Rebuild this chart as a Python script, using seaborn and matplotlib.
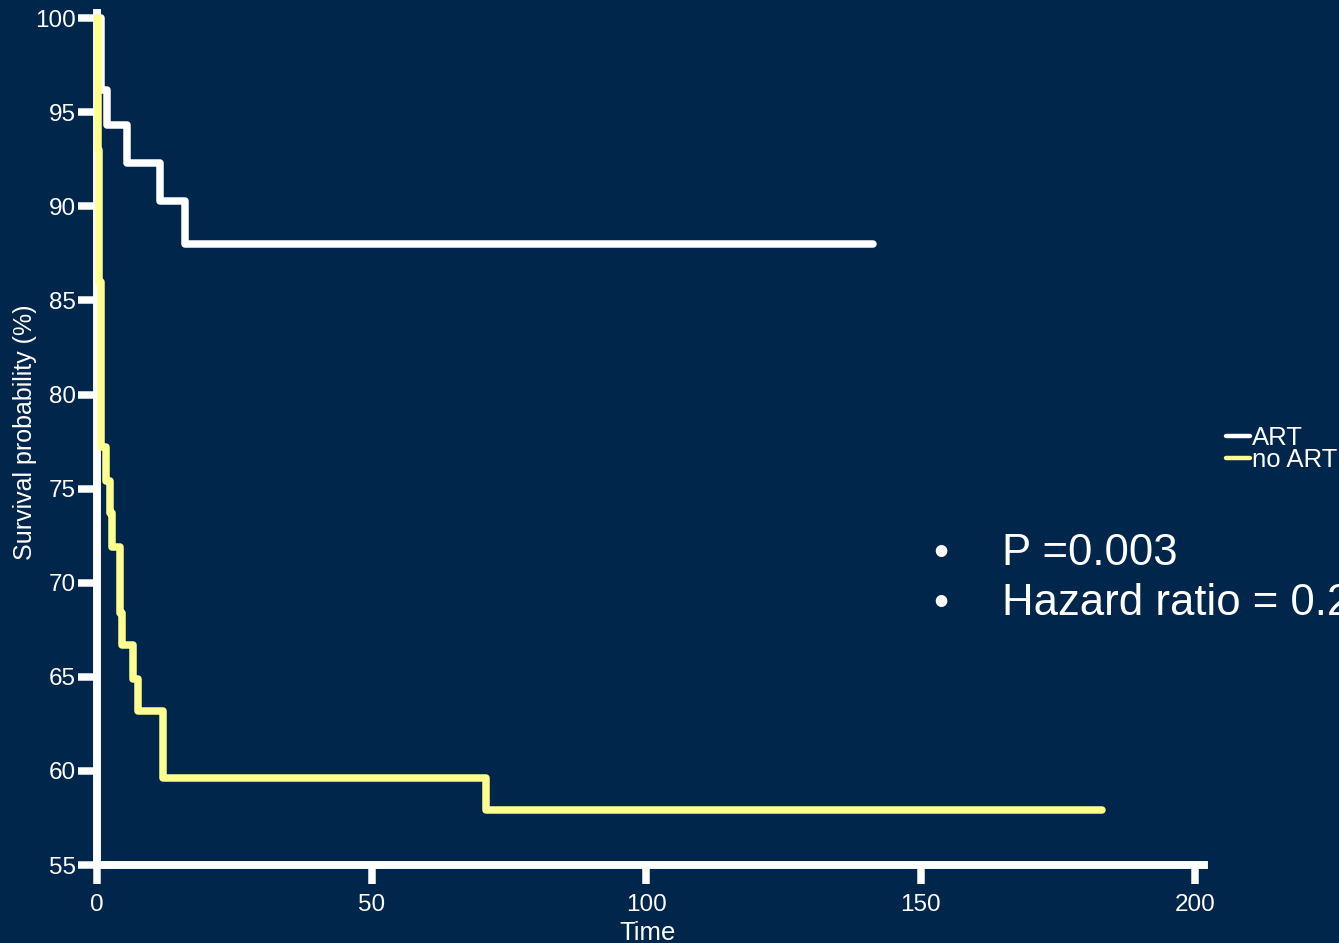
import matplotlib
matplotlib.use("Agg")
import matplotlib.pyplot as plt
import seaborn as sns
import pandas as pd

# Kaplan-Meier step estimates (time, survival %) per group
art_time = [0, 0.8, 1.8, 5.4, 11.5, 16.0, 141.3]
art_surv = [100, 96.2, 94.3, 92.3, 90.3, 88.0, 88.0]

noart_time = [0, 0.1, 0.4, 0.7, 1.6, 2.3, 2.7, 4.1, 4.5, 6.6, 7.4, 12.0, 70.8, 183.0]
noart_surv = [100, 93.0, 86.0, 77.2, 75.4, 73.7, 71.9, 68.4, 66.7, 64.9, 63.2, 59.6, 57.9, 57.9]

groups = ["ART", "no ART"]
x_ticks = [0, 50, 100, 150, 200]
y_ticks = [55, 60, 65, 70, 75, 80, 85, 90, 95, 100]
notes = ["P =0.003", "Hazard ratio = 0.2"]

bg = "#00264C"
yellow = "#FFFF8F"
palette = {"ART": "white", "no ART": yellow}

df = pd.concat([
    pd.DataFrame({"time": art_time, "surv": art_surv, "group": groups[0]}),
    pd.DataFrame({"time": noart_time, "surv": noart_surv, "group": groups[1]}),
], ignore_index=True)

sns.set_theme(style="ticks")
plt.rcParams["font.family"] = ["Liberation Sans", "DejaVu Sans"]

W, H = 1339, 943
fig = plt.figure(figsize=(W / 100, H / 100), dpi=100, facecolor=bg)
ax = fig.add_axes([97 / W, 1 - 865 / H, (1203.5 - 97) / W, (865 - 12.5) / H])
ax.set_facecolor(bg)

sns.lineplot(data=df, x="time", y="surv", hue="group", hue_order=groups,
             palette=palette, drawstyle="steps-post", estimator=None,
             sort=False, linewidth=5.4, ax=ax, zorder=3, clip_on=False)

ax.set_xlim(0, 201.5)
ax.set_ylim(55, 100.3)
ax.set_xticks(x_ticks)
ax.set_yticks(y_ticks)
ax.set_xlabel("")
ax.set_ylabel("")

for side in ["top", "right"]:
    ax.spines[side].set_visible(False)
for side in ["left", "bottom"]:
    ax.spines[side].set_color("white")
    ax.spines[side].set_linewidth(5.7)
    ax.spines[side].set_capstyle("projecting")

ax.tick_params(axis="both", colors="white", length=13.7, width=5.4,
               labelsize=17.5, labelcolor="white")
ax.tick_params(axis="y", pad=1.5)
ax.tick_params(axis="x", pad=7.5)

handles, labels = ax.get_legend_handles_labels()
leg = ax.legend(handles, labels, loc="center left",
                bbox_to_anchor=(1226 / W, 1 - 449 / H),
                bbox_transform=fig.transFigure, frameon=False,
                fontsize=18.5, handlelength=0.95, handletextpad=0.05,
                labelspacing=-0.1, borderpad=0, borderaxespad=0)
for line in leg.get_lines():
    line.set_linewidth(3.2)
for txt in leg.get_texts():
    txt.set_color("white")

fig.text(648 / W, 1 - 940 / H, "Time", ha="center", va="baseline",
         color="white", fontsize=18.5)
fig.text(25 / W, 1 - 432 / H, "Survival probability (%)", ha="center",
         va="center", rotation=90, color="white", fontsize=18)

baselines = [565, 615]
for note, base in zip(notes, baselines):
    fig.text(933 / W, 1 - base / H, "\u2022", ha="left", va="baseline",
             color="white", fontsize=31)
    fig.text(1002 / W, 1 - base / H, note, ha="left", va="baseline",
             color="white", fontsize=31.5)

fig.savefig("out.png", dpi=100, facecolor=bg)
